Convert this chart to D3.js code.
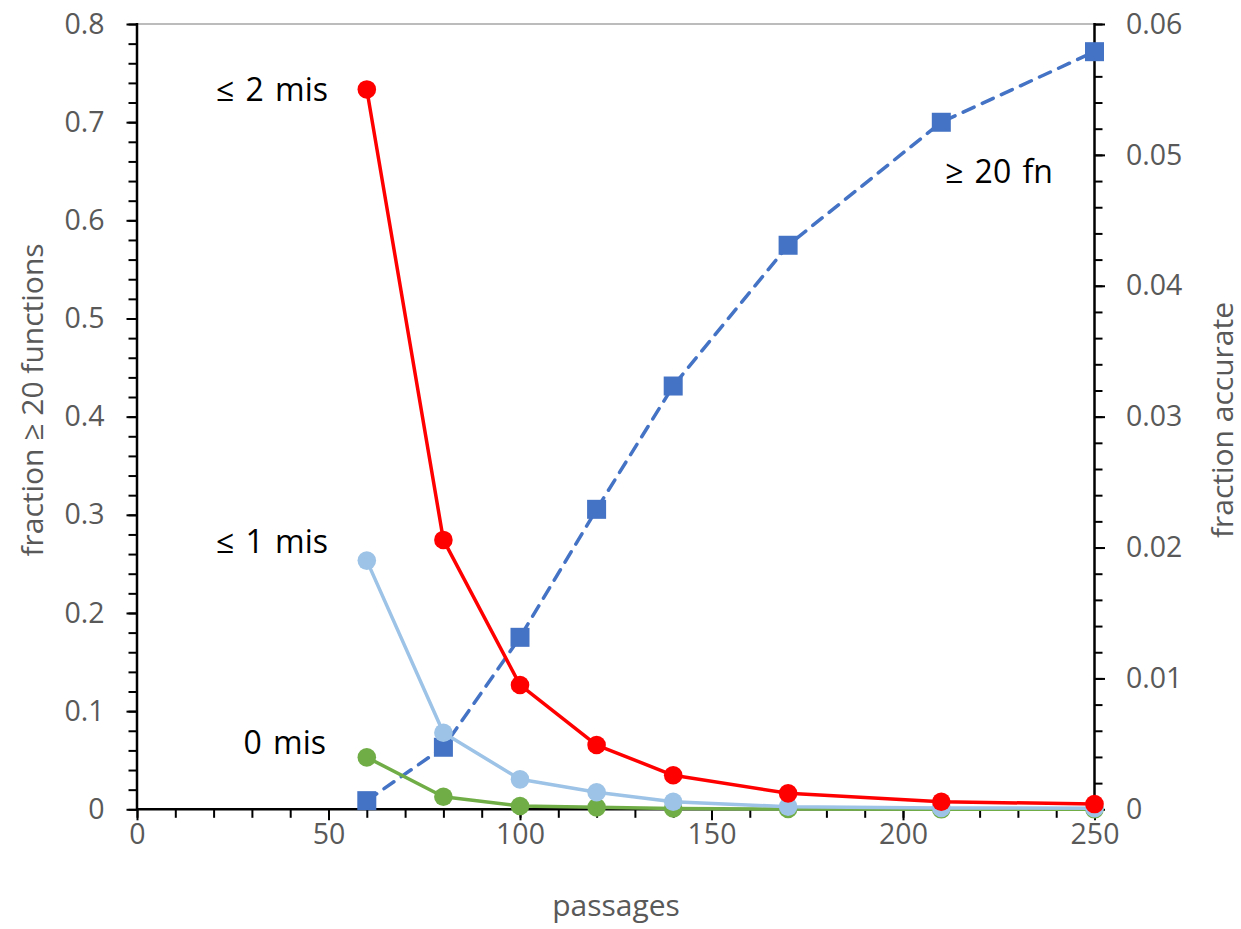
<!DOCTYPE html>
<html>
<head>
<meta charset="utf-8">
<script src="https://cdn.jsdelivr.net/npm/d3@7"></script>
<style>
  body { margin: 0; background: #fff; }
  text { font-family: "Open Sans", sans-serif; }
</style>
</head>
<body>
<div id="chart"></div>
<script>
// data
var passages = [60, 80, 100, 120, 140, 170, 210, 250];
var atLeast20fn = [0.0088, 0.0632, 0.1752, 0.3056, 0.4312, 0.5746, 0.6999, 0.7718]; // left axis
var mis2 = [0.0550, 0.02058, 0.0095, 0.00491, 0.0026, 0.00122, 0.00058, 0.0004];   // right axis
var mis1 = [0.0190, 0.00585, 0.00229, 0.0013, 0.00058, 0.0002, 0.0001, 0.00008];
var mis0 = [0.00397, 0.00096, 0.00025, 0.00015, 0.00006, 0.00002, 0, 0];
var xTicks = [0, 50, 100, 150, 200, 250];
var leftTicks = [0, 0.1, 0.2, 0.3, 0.4, 0.5, 0.6, 0.7, 0.8];
var rightTicks = [0, 0.01, 0.02, 0.03, 0.04, 0.05, 0.06];

var W = 1241, H = 929;
var plot = {left: 137, right: 1094.5, top: 24, bottom: 809.3};

var svg = d3.select('#chart').append('svg')
  .attr('width', W)
  .attr('height', H);

var x = d3.scaleLinear().domain([0, 250]).range([plot.left, plot.right]);
var yL = d3.scaleLinear().domain([0, 0.8]).range([plot.bottom, plot.top]);
var yR = d3.scaleLinear().domain([0, 0.06]).range([plot.bottom, plot.top]);

var grey = '#595959';

// top border line
svg.append('line')
  .attr('x1', plot.left).attr('x2', plot.right)
  .attr('y1', plot.top).attr('y2', plot.top)
  .attr('stroke', '#a6a6a6').attr('stroke-width', 1.5);

function styleAxis(g){
  g.select('.domain').remove();
  g.selectAll('.tick line').attr('stroke', '#000').attr('stroke-width', 2);
  g.selectAll('.tick text').attr('fill', grey).style('font-size', '28.5px');
}

// x axis (minor then major)
svg.append('g')
  .attr('transform', 'translate(0,' + plot.bottom + ')')
  .call(d3.axisBottom(x).tickValues(d3.range(0, 251, 10)).tickSize(8.5).tickFormat(''))
  .call(styleAxis);
svg.append('g')
  .attr('transform', 'translate(0,' + plot.bottom + ')')
  .call(d3.axisBottom(x).tickValues(xTicks).tickSize(11).tickPadding(3))
  .call(styleAxis);

// left axis
svg.append('g')
  .attr('transform', 'translate(' + plot.left + ',0)')
  .call(d3.axisLeft(yL).tickValues(d3.range(0, 0.801, 0.02)).tickSize(8.5).tickFormat(''))
  .call(styleAxis);
svg.append('g')
  .attr('transform', 'translate(' + plot.left + ',0)')
  .call(d3.axisLeft(yL).tickValues(leftTicks).tickSize(10.5).tickPadding(22).tickFormat(d3.format('')))
  .call(styleAxis);

// right axis
svg.append('g')
  .attr('transform', 'translate(' + plot.right + ',0)')
  .call(d3.axisRight(yR).tickValues(d3.range(0, 0.0601, 0.002)).tickSize(8).tickFormat(''))
  .call(styleAxis);
svg.append('g')
  .attr('transform', 'translate(' + plot.right + ',0)')
  .call(d3.axisRight(yR).tickValues(rightTicks).tickSize(10.5).tickPadding(21).tickFormat(d3.format('')))
  .call(styleAxis);

// axis lines
svg.append('line')
  .attr('x1', plot.left - 1).attr('x2', plot.right + 1)
  .attr('y1', plot.bottom).attr('y2', plot.bottom)
  .attr('stroke', '#000').attr('stroke-width', 2.5);
svg.append('line')
  .attr('x1', plot.left).attr('x2', plot.left)
  .attr('y1', plot.top - 1).attr('y2', plot.bottom + 1)
  .attr('stroke', '#000').attr('stroke-width', 2.5);
svg.append('line')
  .attr('x1', plot.right).attr('x2', plot.right)
  .attr('y1', plot.top - 1).attr('y2', plot.bottom + 1)
  .attr('stroke', '#000').attr('stroke-width', 2.5);

// axis titles
svg.append('text')
  .attr('x', 616).attr('y', 916)
  .attr('text-anchor', 'middle').attr('fill', grey).style('font-size', '30px')
  .text('passages');
svg.append('text')
  .attr('transform', 'translate(43,400) rotate(-90)')
  .attr('text-anchor', 'middle').attr('fill', grey).style('font-size', '30px')
  .text('fraction ≥ 20 functions');
svg.append('text')
  .attr('transform', 'translate(1233,420) rotate(-90)')
  .attr('text-anchor', 'middle').attr('fill', grey).style('font-size', '30px')
  .text('fraction accurate');

// series, drawn bottom to top
var series = [
  {name: 'fn', values: atLeast20fn, y: yL, color: '#4472c4', dash: '12,9', marker: 'square'},
  {name: 'mis0', values: mis0, y: yR, color: '#70ad47', dash: null, marker: 'circle'},
  {name: 'mis1', values: mis1, y: yR, color: '#9dc3e6', dash: null, marker: 'circle'},
  {name: 'mis2', values: mis2, y: yR, color: '#ff0000', dash: null, marker: 'circle'}
];

series.forEach(function(s){
  var pts = passages.map(function(p, i){ return {x: p, y: s.values[i]}; });
  var line = d3.line()
    .x(function(d){ return x(d.x); })
    .y(function(d){ return s.y(d.y); });
  var g = svg.append('g').attr('class', s.name);
  g.append('path')
    .datum(pts)
    .attr('d', line)
    .attr('fill', 'none')
    .attr('stroke', s.color)
    .attr('stroke-width', 3.5)
    .attr('stroke-dasharray', s.dash)
    .attr('stroke-linecap', s.dash ? 'round' : 'butt')
    .attr('stroke-linejoin', 'round');
  if(s.marker == 'square'){
    g.selectAll('rect').data(pts).enter().append('rect')
      .attr('x', function(d){ return x(d.x) - 9.5; })
      .attr('y', function(d){ return s.y(d.y) - 9.5; })
      .attr('width', 19).attr('height', 19)
      .attr('fill', s.color);
  } else {
    g.selectAll('circle').data(pts).enter().append('circle')
      .attr('cx', function(d){ return x(d.x); })
      .attr('cy', function(d){ return s.y(d.y); })
      .attr('r', 9.3)
      .attr('fill', s.color);
  }
});

// labels on the chart
var notes = [
  {text: '≤ 2 mis', x: 328, y: 101, anchor: 'end'},
  {text: '≤ 1 mis', x: 328, y: 553, anchor: 'end'},
  {text: '0 mis', x: 326, y: 754, anchor: 'end'},
  {text: '≥ 20 fn', x: 945, y: 183, anchor: 'start'}
];
svg.selectAll('.note').data(notes).enter().append('text')
  .attr('class', 'note')
  .attr('x', function(d){ return d.x; })
  .attr('y', function(d){ return d.y; })
  .attr('text-anchor', function(d){ return d.anchor; })
  .attr('fill', '#000')
  .style('font-size', '32px')
  .style('word-spacing', '3px')
  .text(function(d){ return d.text; });
</script>
</body>
</html>
